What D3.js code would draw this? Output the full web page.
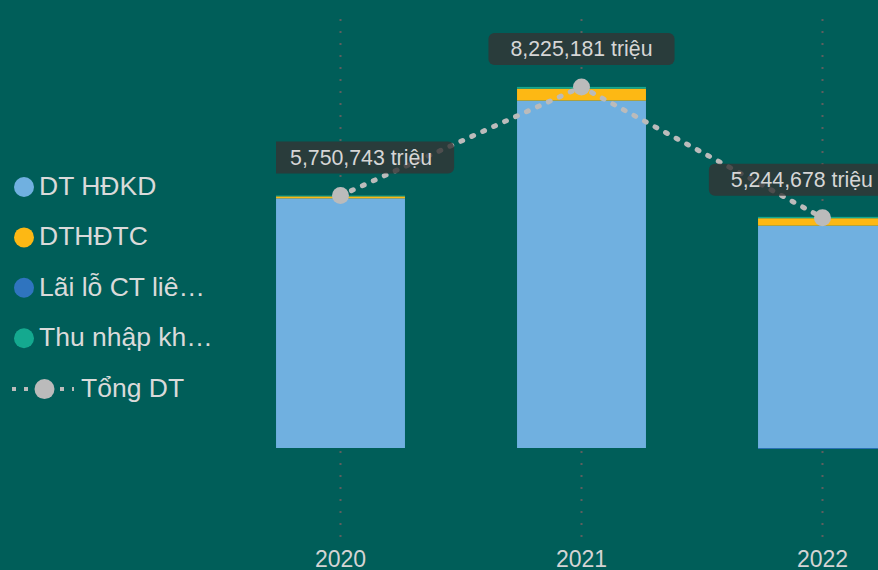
<!DOCTYPE html>
<html>
<head>
<meta charset="utf-8">
<script src="https://cdn.jsdelivr.net/npm/d3@7/dist/d3.min.js"></script>
<style>
  html, body { margin: 0; padding: 0; background: #005E59; overflow: hidden; }
  svg { display: block; font-family: "Liberation Sans", Arial, sans-serif; }
</style>
</head>
<body>
<svg id="chart" width="878" height="570"></svg>
<script>
// Revenue structure by year (đơn vị: triệu đồng)
const years = ["2020", "2021", "2022"];
const seriesNames = ["DT HĐKD", "DTHĐTC", "Lãi lỗ CT liê…", "Thu nhập kh…"];
const dtHdkd   = [5686743, 7913181, 5064678];
const dtHdtc   = [46000, 273000, 170000];
const laiLoCt  = [0, 0, -20000];
const thuNhapK = [18000, 39000, 30000];
const tongDt   = [5750743, 8225181, 5244678];
const totalLabel = "Tổng DT";
const unit = " triệu";

const colors = ["#70B0E0", "#FDB814", "#2F74BF", "#14A98F"];
const lineColor = "#BBBBBB";

const svg = d3.select("#chart");

const rows = years.map((y, i) => ({
  year: y,
  [seriesNames[0]]: dtHdkd[i],
  [seriesNames[1]]: dtHdtc[i],
  [seriesNames[2]]: laiLoCt[i],
  [seriesNames[3]]: thuNhapK[i],
  total: tongDt[i]
}));

const x = d3.scaleBand()
  .domain(years)
  .range([220, 943])
  .paddingInner(0.465)
  .paddingOuter(0.2325);

const y = d3.scaleLinear()
  .domain([-2e6, 10e6])
  .range([535.8, 9]);

const plotLeft = x(years[0]);
const plotRight = x(years[years.length - 1]) + x.bandwidth();
const cx = d => x(d) + x.bandwidth() / 2;

// vertical category gridlines
svg.append("g")
  .selectAll("line")
  .data(years)
  .join("line")
  .attr("x1", cx).attr("x2", cx)
  .attr("y1", 19).attr("y2", 538)
  .attr("stroke", "#5E5E5E")
  .attr("stroke-width", 2)
  .attr("stroke-dasharray", "2 10");

// stacked bars
const stack = d3.stack().keys(seriesNames).offset(d3.stackOffsetDiverging);
const layers = stack(rows);

svg.append("g")
  .selectAll("g")
  .data(layers)
  .join("g")
  .attr("fill", (d, i) => colors[i])
  .selectAll("rect")
  .data(d => d)
  .join("rect")
  .attr("x", d => x(d.data.year))
  .attr("width", x.bandwidth())
  .attr("y", d => y(Math.max(d[0], d[1])))
  .attr("height", d => Math.abs(y(d[0]) - y(d[1])));

// total line
const line = d3.line()
  .x(d => cx(d.year))
  .y(d => y(d.total));

svg.append("path")
  .datum(rows)
  .attr("fill", "none")
  .attr("stroke", lineColor)
  .attr("stroke-width", 5)
  .attr("stroke-linecap", "round")
  .attr("stroke-dasharray", "2 10")
  .attr("d", line);

svg.append("g")
  .selectAll("circle")
  .data(rows)
  .join("circle")
  .attr("cx", d => cx(d.year))
  .attr("cy", d => y(d.total))
  .attr("r", 8.5)
  .attr("fill", lineColor);

// value labels for the total, kept inside the plot area
svg.append("clipPath").attr("id", "plotClip")
  .append("rect")
  .attr("x", plotLeft).attr("y", 0)
  .attr("width", plotRight - plotLeft).attr("height", 570);

const labels = svg.append("g").attr("clip-path", "url(#plotClip)")
  .selectAll("g")
  .data(rows)
  .join("g");

const fmt = d3.format(",");
labels.each(function(d) {
  const g = d3.select(this);
  const txt = g.append("text")
    .attr("text-anchor", "middle")
    .attr("font-size", 21.3)
    .attr("fill", "#D6D6D6")
    .text(fmt(d.total) + unit);
  const tw = txt.node().getComputedTextLength();
  const bw = tw + 44, bh = 32;
  let px = cx(d.year);
  px = Math.max(px, plotLeft + bw / 2 - 8);
  px = Math.min(px, plotRight - bw / 2 + 8);
  const py = y(d.total) - 38;
  g.insert("rect", "text")
    .attr("x", px - bw / 2).attr("y", py - bh / 2)
    .attr("width", bw).attr("height", bh)
    .attr("rx", 6)
    .attr("fill", "#333333")
    .attr("fill-opacity", 0.8);
  txt.attr("x", px).attr("y", py + 7.5);
});

// x axis labels
svg.append("g")
  .selectAll("text")
  .data(years)
  .join("text")
  .attr("x", cx)
  .attr("y", 566.5)
  .attr("text-anchor", "middle")
  .attr("font-size", 23)
  .attr("fill", "#D4D4D4")
  .text(d => d);

// legend
const legend = svg.append("g");
const rowY = i => 195 + i * 50.4;
seriesNames.forEach((name, i) => {
  legend.append("circle")
    .attr("cx", 24).attr("cy", rowY(i) - 8)
    .attr("r", 10)
    .attr("fill", colors[i]);
  legend.append("text")
    .attr("x", 39).attr("y", rowY(i))
    .attr("font-size", 26.5)
    .attr("fill", "#DADADA")
    .text(name);
});
const li = seriesNames.length;
legend.append("line")
  .attr("x1", 12).attr("x2", 74)
  .attr("y1", rowY(li) - 7.5).attr("y2", rowY(li) - 7.5)
  .attr("stroke", lineColor)
  .attr("stroke-width", 4)
  .attr("stroke-dasharray", "4 8");
legend.append("circle")
  .attr("cx", 44.5).attr("cy", rowY(li) - 7.5)
  .attr("r", 10)
  .attr("fill", lineColor);
legend.append("text")
  .attr("x", 81).attr("y", rowY(li))
  .attr("font-size", 26.5)
  .attr("fill", "#DADADA")
  .text(totalLabel);
</script>
</body>
</html>
